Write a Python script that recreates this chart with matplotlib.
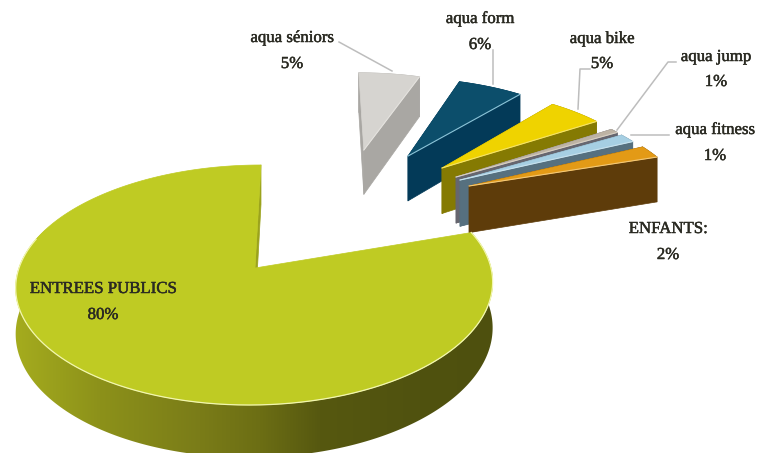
import numpy as np
import matplotlib
matplotlib.use("Agg")
import matplotlib.pyplot as plt
from matplotlib.patches import Polygon
import matplotlib.patheffects as pe

# ---- data ----
labels = ["aqua séniors", "aqua form", "aqua bike", "aqua jump", "aqua fitness", "ENFANTS:", "ENTREES PUBLICS"]
values = [5.4, 5.7, 4.7, 0.7, 1.4, 2.0, 80.1]

# ---- styles ----
top_colors = ["#D6D4D0", "#0C4E6B", "#EFD300", "#BDB3A4", "#A6CFE3", "#E39A16", "#BFCB23"]
side_colors = ["#A9A7A3", "#033A58", "#857A02", "#66666F", "#56707F", "#5E3C0A", "#8A8F18"]
edge_colors = ["#E4E2DE", "#8CC4D8", "#F5E36A", "#D8D0C4", "#C8E2EE", "#F3C878", "#F2F6B0"]
# offset of each slice in pie-plane units (x, y)
explode = [(0.503, 1.17), (0.717, 1.10), (0.873, 0.967), (0.932, 0.869),
           (0.948, 0.837), (0.985, 0.774), (0.0, 0.0)]

# ---- projection of the pie plane ----
CX, CY = 255.0, 268.0
A, B, C, SHEAR, DEPTH = 236.0, 117.6, 0.1417, 6.0, 45.0
EXPLODED_Z = 1.15


def project(x, y, z=0.0):
    x, y = np.asarray(x, float), np.asarray(y, float)
    w = 1 + C * y
    return CX + A * x / w + SHEAR * y, CY - (B * y - DEPTH * z) / w


def rim(theta, off):
    return off[0] + np.sin(theta), off[1] + np.cos(theta)


fig = plt.figure(figsize=(7.58, 4.53), dpi=100)
ax = fig.add_axes([0, 0, 1, 1])


def poly(xs, ys, color, z, edge=None):
    p = Polygon(np.column_stack([xs, ys]), closed=True, facecolor=color,
                edgecolor=edge if edge else color, lw=0.5, zorder=z, joinstyle="round")
    ax.add_patch(p)
    return p


def wall(x0, y0, x1, y1, color, z, zb=1.0):
    xa, ya = project([x0, x1], [y0, y1], 0)
    xb, yb = project([x1, x0], [y1, y0], zb)
    poly(np.r_[xa, xb], np.r_[ya, yb], color, z)


# gradient of the big slice's outer wall, by horizontal position
grad_x = [15, 100, 200, 260, 320, 420, 495]
grad_r = [165, 140, 122, 108, 86, 80, 78]
grad_g = [172, 145, 124, 110, 88, 82, 80]
grad_b = [30, 26, 24, 20, 16, 15, 14]
xs_grad = np.arange(0, 759)
grad_img = np.dstack([np.interp(xs_grad, grad_x, c) / 255 for c in (grad_r, grad_g, grad_b)])

start = 0.0
for i, (val, off) in enumerate(zip(values, explode)):
    sweep = val / sum(values) * 2 * np.pi
    th = np.linspace(start, start + sweep, max(12, int(val * 8)))
    rx, ry = rim(th, off)
    z = 2 + i * 3
    if i == len(values) - 1:
        vis = np.cos(th) < 0.35
        xa, ya = project(rx[vis], ry[vis], 0)
        xb, yb = project(rx[vis][::-1], ry[vis][::-1], 1)
        clip = Polygon(np.column_stack([np.r_[xa, xb], np.r_[ya, yb]]), closed=True,
                       facecolor="none", edgecolor="none", transform=ax.transData)
        ax.add_patch(clip)
        im = ax.imshow(grad_img, extent=(0, 758, 453, 0), aspect="auto", zorder=z)
        im.set_clip_path(clip)
        wall(off[0], off[1], rx[-1], ry[-1], "#9BA31C", z)
    else:
        wall(off[0], off[1], rx[0], ry[0], side_colors[i], z, EXPLODED_Z)
        xa, ya = project(rx, ry, 0)
        xb, yb = project(rx[::-1], ry[::-1], EXPLODED_Z)
        poly(np.r_[xa, xb], np.r_[ya, yb], side_colors[i], z)
        wall(off[0], off[1], rx[-1], ry[-1], side_colors[i], z, EXPLODED_Z)
    tx, ty = project(np.r_[off[0], rx], np.r_[off[1], ry])
    poly(tx, ty, top_colors[i], z + 1)
    if i == len(values) - 1:
        keep = (np.cos(th) < 0.35) & (np.degrees(th) < 285)
        ax.plot(tx[1:][keep], ty[1:][keep], color=edge_colors[i], lw=0.9, zorder=z + 2)
    else:
        ax.plot([tx[0], tx[-1]], [ty[0], ty[-1]], color=edge_colors[i], lw=0.8, zorder=z + 2)
    start += sweep

# ---- leader lines ----
leaders = [
    [(339, 42), (392, 71)],
    [(493, 50), (493, 84)],
    [(590, 69), (580, 69), (578, 109)],
    [(676, 62), (668, 62), (617, 130)],
    [(669, 135), (631, 135)],
]
for pts in leaders:
    xs, ys = zip(*pts)
    ax.plot(xs, ys, color="#BDBDBD", lw=1.1, zorder=40)

# ---- labels ----
label_pos = [(292, 38, 64), (480, 19, 45), (602, 39, 64), (716, 57, 82),
             (715, 130, 156), (668, 229, 255), (103, 289, 315)]
for name, val, (x, y1, y2) in zip(labels, values, label_pos):
    for txt, y in ((name, y1), (f"{round(val)}%", y2)):
        ax.text(x, y, txt, family="Liberation Serif", fontsize=12.1, color="#2A2A22",
                ha="center", va="center", zorder=50,
                path_effects=[pe.withStroke(linewidth=0.35, foreground="#2A2A22")])

ax.set_xlim(0, 758)
ax.set_ylim(453, 0)
ax.axis("off")
fig.savefig("out.png", dpi=100, facecolor="white")
